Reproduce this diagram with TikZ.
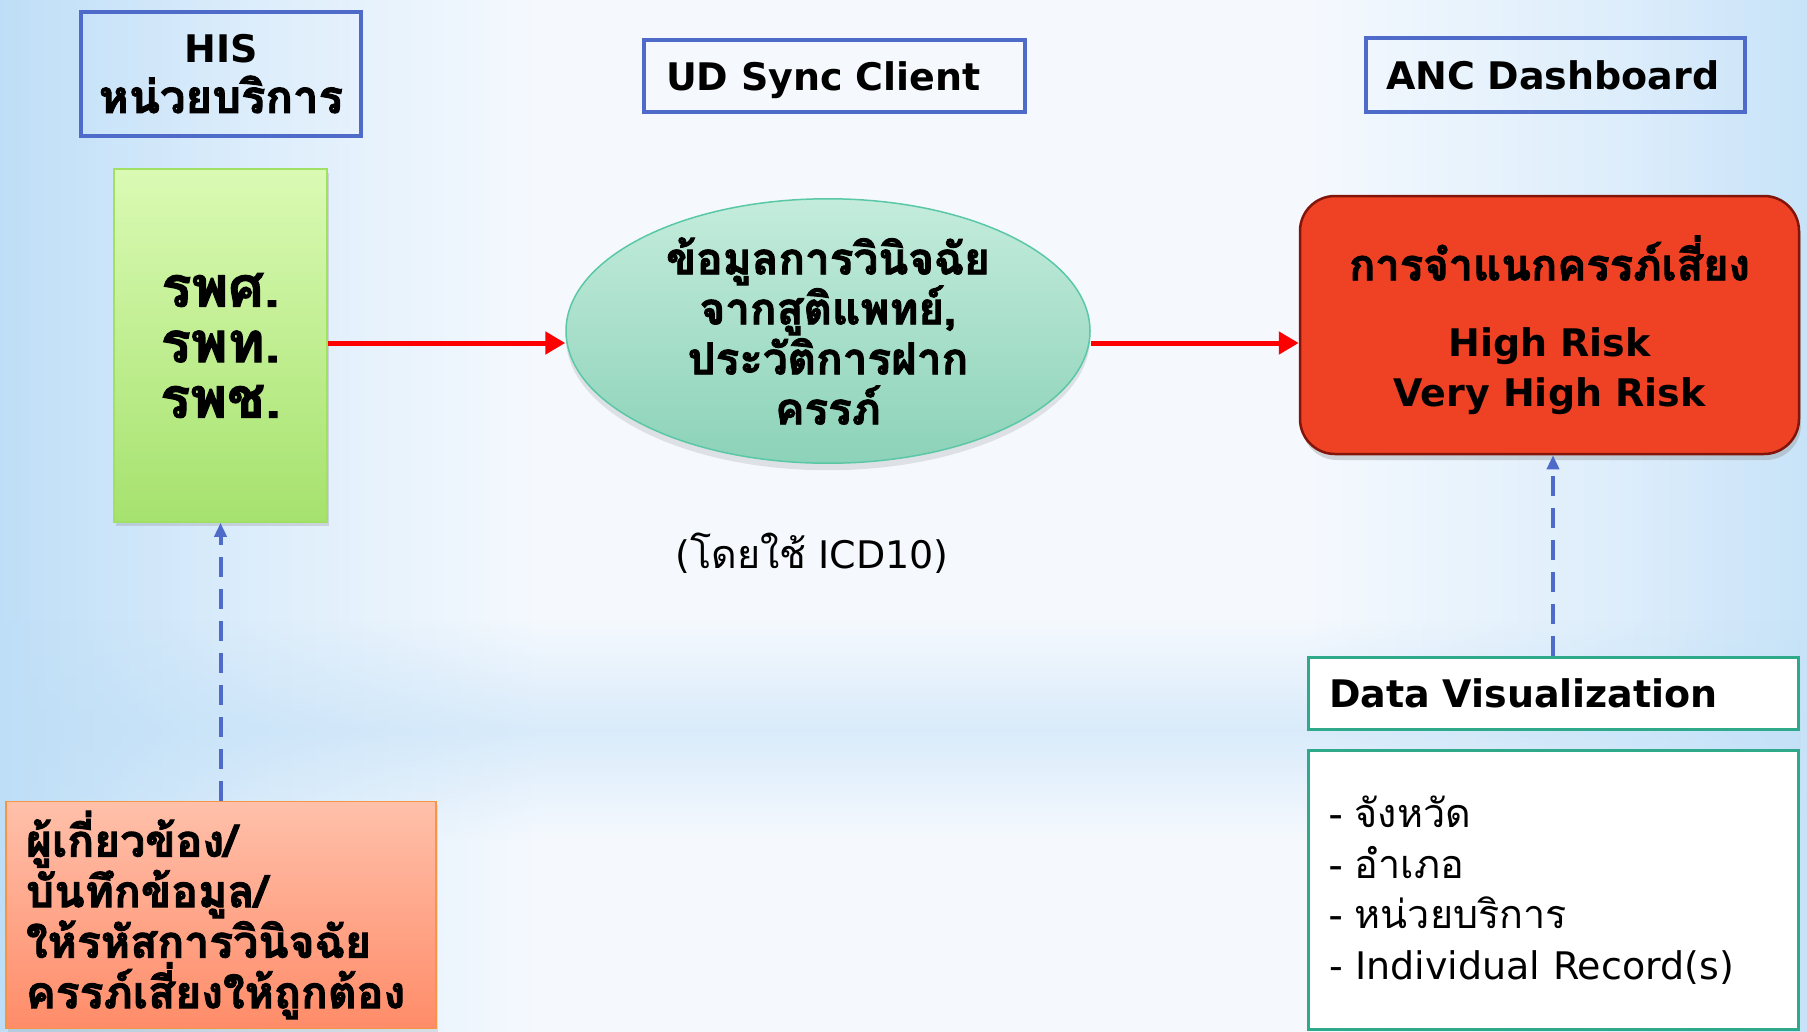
\documentclass[tikz,border=0pt]{standalone}
\usepackage{fontspec}
\setmainfont{DejaVu Sans}
\newfontfamily\thf[Script=Thai, BoldFeatures={FakeBold=2}]{Loma}
\usetikzlibrary{arrows.meta,shapes.geometric,shadows,fadings,calc}
\definecolor{bluebd}{RGB}{79,107,201}
\definecolor{tealbd}{RGB}{46,170,138}
\definecolor{greenTop}{RGB}{218,250,180}
\definecolor{greenBot}{RGB}{166,226,110}
\definecolor{greenBd}{RGB}{160,225,100}
\definecolor{ellTop}{RGB}{196,236,220}
\definecolor{ellBot}{RGB}{140,210,185}
\definecolor{ellBd}{RGB}{90,200,165}
\definecolor{redFill}{RGB}{239,65,36}
\definecolor{redBd}{RGB}{130,20,10}
\definecolor{orTop}{RGB}{255,192,170}
\definecolor{orBot}{RGB}{255,140,105}
\definecolor{orBd}{RGB}{245,150,70}
\definecolor{arrowred}{RGB}{255,0,0}
\definecolor{bgblue}{RGB}{190,222,247}
\definecolor{bgwhite}{RGB}{245,249,254}
\newcommand\fsz[2]{\fontsize{#1}{#2}\selectfont}
\newcommand\thx[2][44]{{\fsz{#1}{50}\thf #2}}
\pgfdeclarehorizontalshading{bgsh}{100bp}{color(0bp)=(bgblue); color(25bp)=(bgblue); color(32bp)=(bgblue!45!bgwhite); color(40bp)=(bgwhite); color(61bp)=(bgwhite); color(70bp)=(bgblue!45!bgwhite); color(75bp)=(bgblue!85!white); color(100bp)=(bgblue!85!white)}
\tikzfading[name=bandfade, top color=transparent!100, bottom color=transparent!100, middle color=transparent!50]
\tikzset{
  headbox/.style={draw=bluebd, line width=4.5pt, inner sep=0pt, font=\fsz{38}{50}\bfseries},
  tealbox/.style={draw=tealbd, line width=3pt, fill=white, inner sep=0pt, text width=448pt, align=left, minimum width=490pt},
  redarrow/.style={draw=arrowred, line width=5pt, -{Triangle[length=20pt,width=22pt]}},
  bluearrow/.style={draw=bluebd, line width=4pt, dash pattern=on 20pt off 12pt, -{Triangle[length=14pt,width=12pt]}},
}
\begin{document}
\begin{tikzpicture}[x=1pt,y=-1pt]
\useasboundingbox (0,0) rectangle (1807,1031);
% background
\shade[shading=bgsh] (0,0) rectangle (1807,1031);
\fill[bgblue, path fading=bandfade] (0,620) rectangle (1807,840);
% header boxes
\node[headbox, minimum width=280pt, minimum height=124pt, align=center] (his) at (221,74) {HIS\\\thx[45.5]{หน่วยบริการ}};
\node[headbox, minimum width=381pt, minimum height=72pt, text width=337pt, text depth=0pt, align=left] (ud) at (834.5,76) {UD Sync Client};
\node[headbox, minimum width=379pt, minimum height=74pt, text width=339pt, text depth=0pt, align=left] (anc) at (1555.5,75) {ANC Dashboard};
% green rect
\node[draw=greenBd, line width=1.5pt, top color=greenTop, bottom color=greenBot, minimum width=213pt, minimum height=353pt, inner sep=0pt, align=center, font=\fsz{56}{55.5}\bfseries\thf, drop shadow={shadow xshift=2pt, shadow yshift=-4pt, opacity=0.25}] (hosp) at (220.5,345.5) {รพศ.\\รพท.\\รพช.};
% ellipse
\node[ellipse, draw=ellBd, line width=1.5pt, top color=ellTop, bottom color=ellBot, minimum width=524pt, minimum height=262pt, inner sep=0pt, align=center, font=\fsz{44}{50}\bfseries\thf, drop shadow={shadow xshift=0pt, shadow yshift=-7pt, opacity=0.2}] (ell) at (828,331) {ข้อมูลการวินิจฉัย\\จากสูติแพทย์,\\ประวัติการฝาก\\ครรภ์};
% red box
\node[draw=redBd, line width=2.5pt, fill=redFill, rounded corners=35pt, minimum width=499pt, minimum height=258pt, inner sep=0pt, align=center, font=\fsz{38}{50}\bfseries, drop shadow={shadow xshift=2pt, shadow yshift=-6pt, opacity=0.3}] (risk) at (1549.5,325) {\thx[43.5]{การจำแนกครรภ์เสี่ยง}\\[26pt]High Risk\\Very High Risk};
% ICD text
\node[font=\fsz{38}{48}, inner sep=0pt] (icd) at (812,553) {(\thx[39.5]{โดยใช้} ICD10)};
% orange box
\node[draw=orBd, line width=1.5pt, top color=orTop, bottom color=orBot, minimum width=430pt, minimum height=227pt, inner sep=0pt, text width=390pt, align=left, font=\fsz{44.5}{50.5}\bfseries\thf, drop shadow={shadow xshift=2pt, shadow yshift=-3pt, opacity=0.2}] (staff) at (221,915) {ผู้เกี่ยวข้อง/\\บันทึกข้อมูล/\\ให้รหัสการวินิจฉัย\\ครรภ์เสี่ยงให้ถูกต้อง};
% teal boxes
\node[tealbox, minimum height=72pt, text depth=0pt, font=\fsz{38}{48}\bfseries] (dvt) at (1553,693) {Data Visualization};
\node[tealbox, minimum height=279pt, font=\fsz{38}{50.5}] (dvl) at (1553,890) {\thx[39.5]{- จังหวัด}\\\thx[39.5]{- อำเภอ}\\\thx[39.5]{- หน่วยบริการ}\\- Individual Record(s)};
% connectors
\coordinate (ya) at (0,343);
\draw[redarrow] (hosp.east |- ya) -- (ell.west |- ya);
\draw[redarrow] (ell.east |- ya) -- (risk.west |- ya);
\draw[bluearrow] (staff.north -| hosp.south) -- (hosp.south);
\draw[bluearrow] (dvt.north) -- (dvt.north |- risk.south);
\end{tikzpicture}
\end{document}
